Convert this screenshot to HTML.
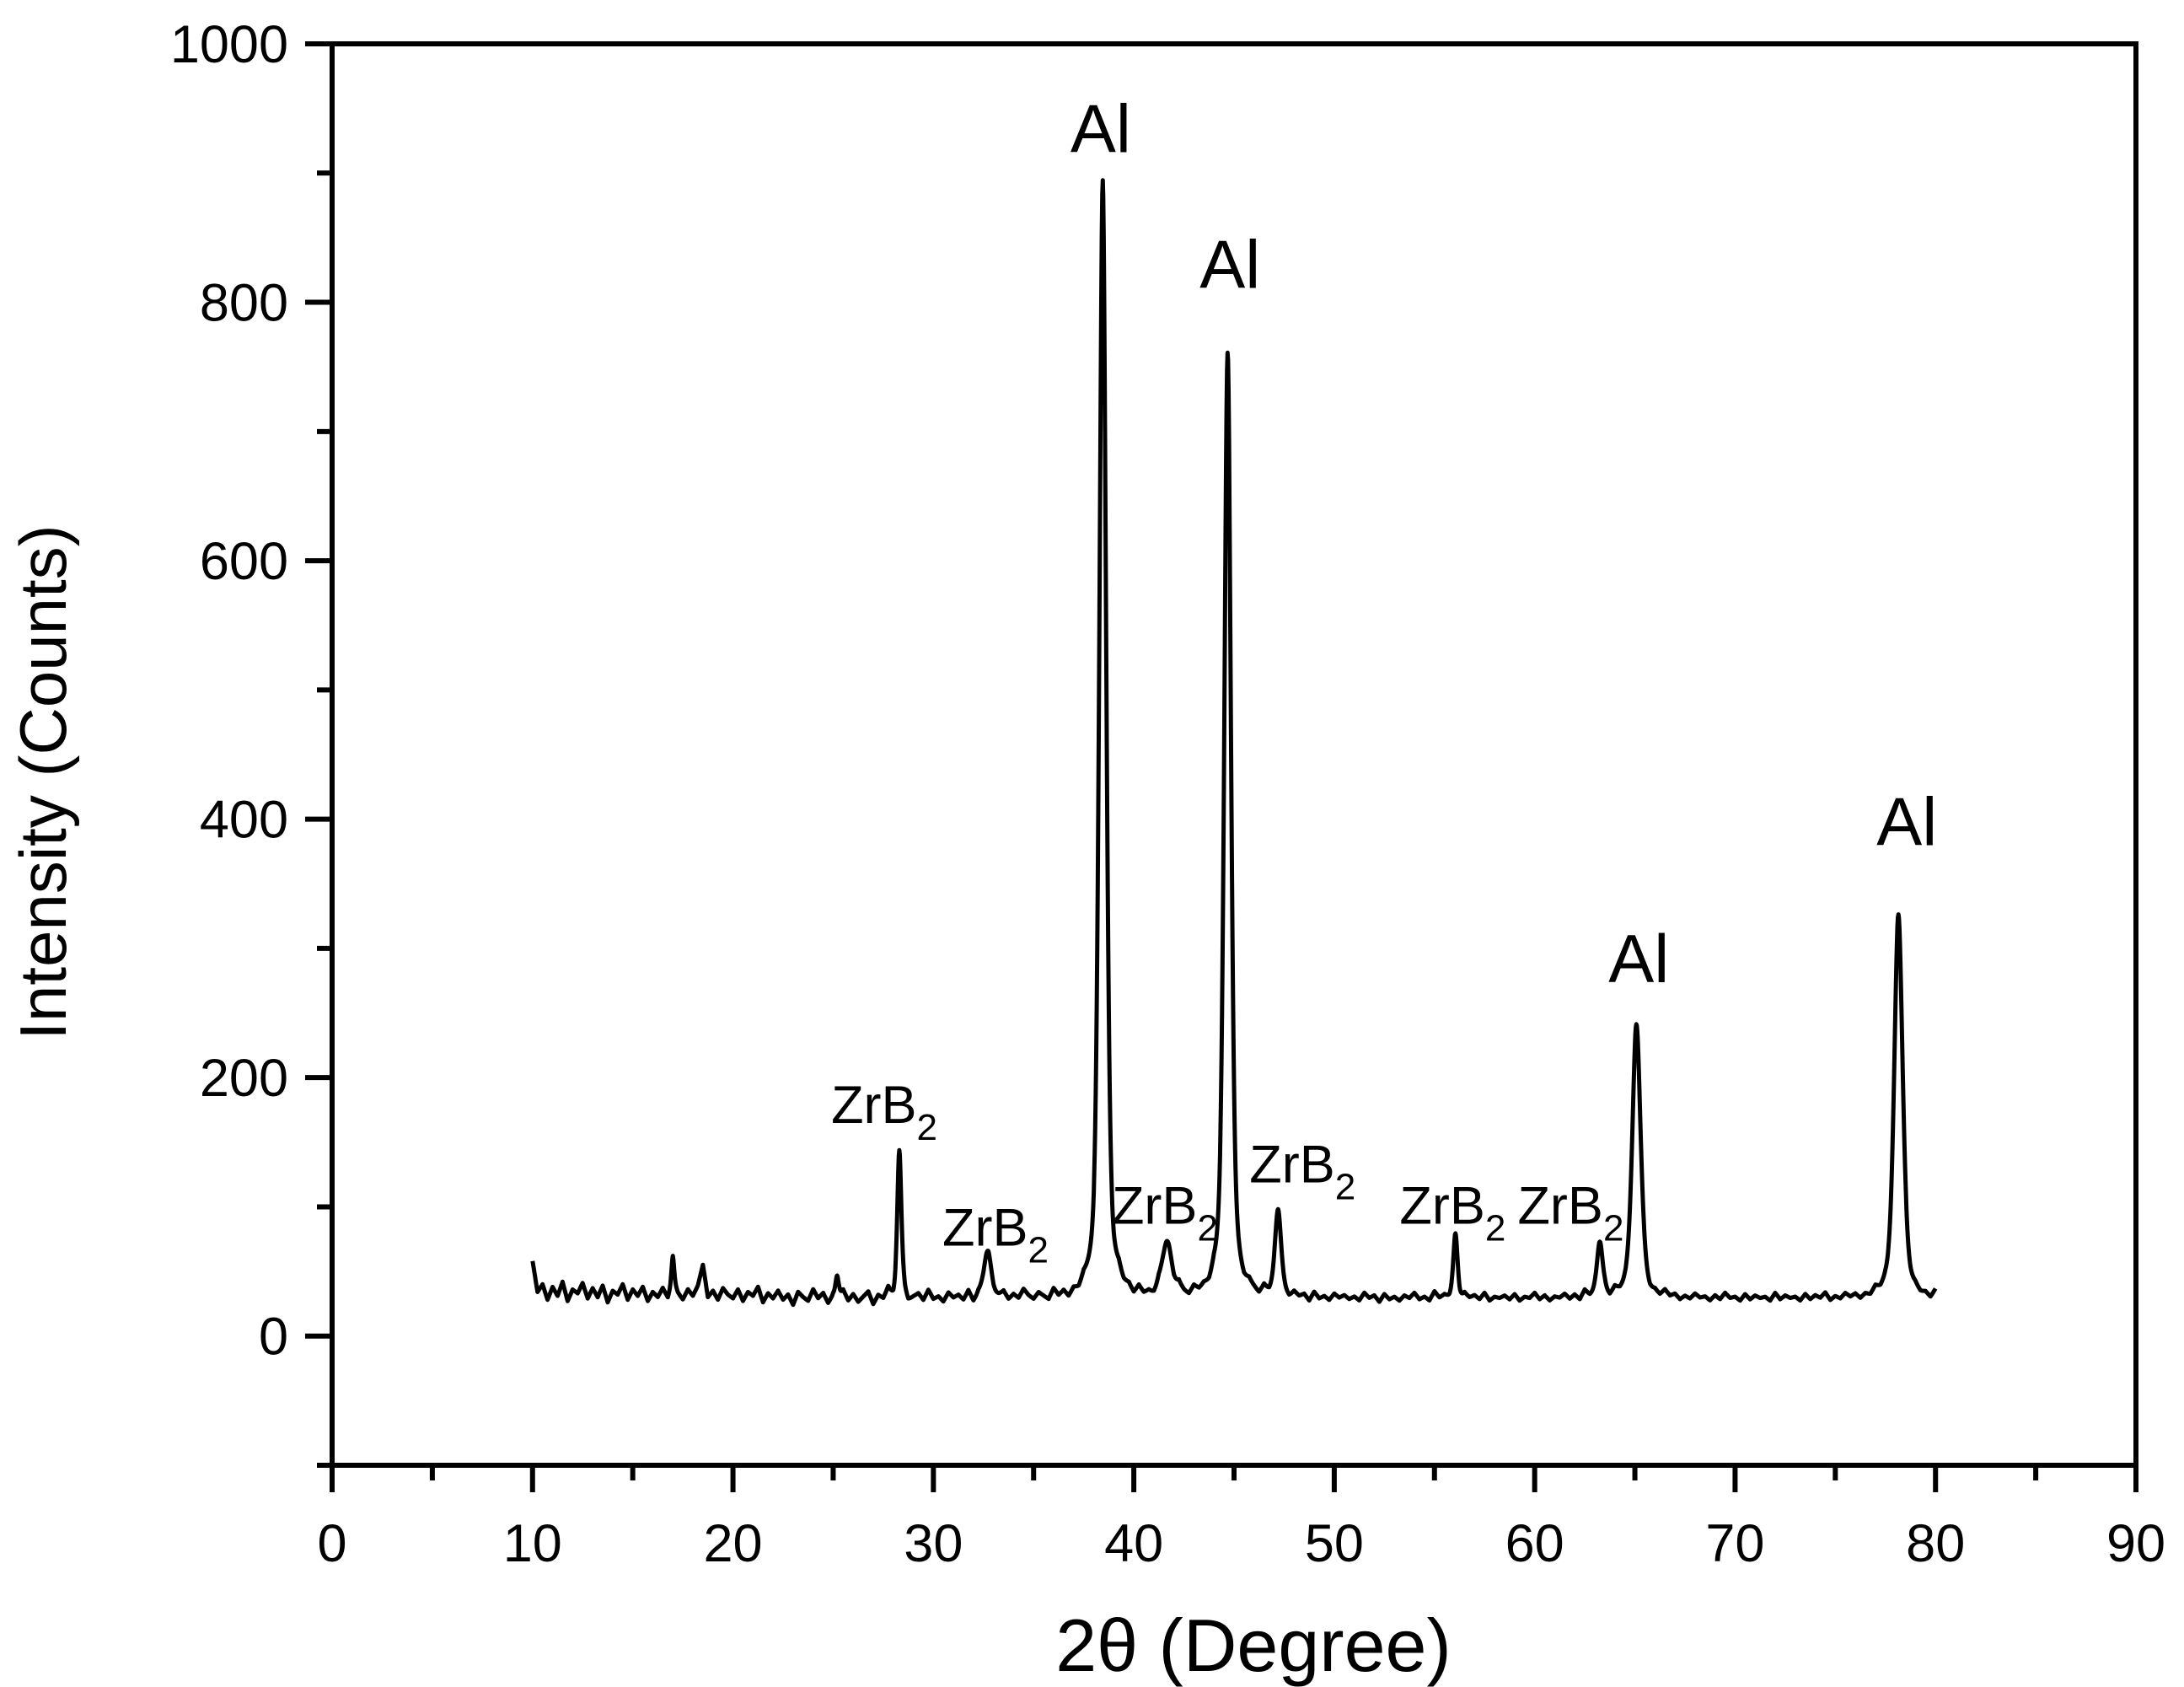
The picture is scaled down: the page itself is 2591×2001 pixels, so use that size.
<!DOCTYPE html>
<html><head><meta charset="utf-8">
<style>
html,body{margin:0;padding:0;background:#fff;}
svg{display:block;font-family:"Liberation Sans",Arial,sans-serif;}
</style></head>
<body>
<svg id="chart" width="2591" height="2001" viewBox="0 0 2591 2001" xmlns="http://www.w3.org/2000/svg">
<g id="axes"></g>
<path id="trace" fill="none" stroke="#000" stroke-width="5" stroke-linejoin="round"></path>
<g id="labels"></g>
<text x="1487" y="1982" font-size="88" text-anchor="middle">2θ (Degree)</text>
<text transform="translate(78,928) rotate(-90)" font-size="78" text-anchor="middle">Intensity (Counts)</text>
</svg>
<script>
// ---- data ----
const xTicks = [0,10,20,30,40,50,60,70,80,90];
const yTicks = [0,200,400,600,800,1000];
// baseline counts, every 0.25 deg from 10 to 80
const baseStart = 10, baseStep = 0.25;
const baseline = [58,34,40,28,38,31,42,27,36,33,41,29,37,30,39,26,35,32,40,28,
 36,31,38,27,34,30,37,29,42,33,28,36,31,39,55,30,35,28,37,32,
 29,36,27,34,31,38,26,33,29,35,28,32,24,34,30,27,36,29,33,25,
 31,28,35,27,32,26,30,34,24,31,28,36,27,30,33,25,29,32,27,35,
 28,30,26,33,29,31,27,34,25,30,28,32,26,29,33,27,31,28,35,30,
 27,32,29,26,34,28,31,25,30,27,33,29,26,32,28,30,27,34,29,31,
 26,33,28,30,27,32,29,31,28,35,30,27,33,29,31,28,34,30,27,32,
 29,31,28,33,30,27,34,29,31,28,30,27,32,29,31,26,33,28,30,27,
 32,29,31,28,30,27,33,29,31,26,32,28,30,27,31,29,33,28,30,27,
 34,29,31,28,30,26,32,29,31,28,33,27,30,29,31,28,32,27,30,29,
 33,28,31,27,30,29,32,28,31,27,34,29,30,28,31,27,33,29,30,28,
 32,29,31,27,30,28,33,29,31,27,30,28,32,29,30,27,31,28,33,29,
 30,27,32,28,31,29,30,27,33,28,31,29,30,27,32,28,31,29,33,27,
 30,28,32,29,31,27,30,28,33,29,31,28,30,27,32,29,31,28,30,27,34];
// peaks: position (deg), height above baseline (counts), half-width (deg)
const peakPos    = [17.0, 25.2, 28.3, 32.7, 38.45, 41.65, 44.68, 47.2, 56.05, 63.25, 65.08, 78.15];
const peakHeight = [20,   18,   113,  34,   865,   40,    730,   67,   50,    43,    210,   298];
const peakWidth  = [0.08, 0.1,  0.12, 0.25, 0.2,   0.3,   0.2,   0.18, 0.13,  0.17,  0.25,  0.25];
// Al labels (centered)
const alDeg = [38.35, 44.8, 65.2, 78.57];
const alVal = [916, 811, 274, 380];
// ZrB2 labels (left aligned)
const zrDeg = [24.9, 30.45, 38.9, 45.77, 53.26, 59.15];
const zrVal = [165, 70, 87, 119, 87, 87];

// ---- scales ----
const X0=394, X1=2534, Y0=1738, YT=52;
const xMin=0,xMax=90,yMin=-100,yMax=1000;
const sx = v => X0 + (v-xMin)/(xMax-xMin)*(X1-X0);
const sy = v => Y0 - (v-yMin)/(yMax-yMin)*(Y0-YT);
const NS="http://www.w3.org/2000/svg";
function mk(tag, attrs, parent){const e=document.createElementNS(NS,tag);for(const k in attrs)e.setAttribute(k,attrs[k]);parent.appendChild(e);return e;}

const axes=document.getElementById('axes');
const frame=mk('rect',{x:X0,y:YT,width:X1-X0,height:Y0-YT,fill:'none',stroke:'#000','stroke-width':6},axes);



for(let v=0; v<=90; v+=5){
  const major = v%10===0;
  const t=mk('line',{x1:sx(v),x2:sx(v),y1:Y0,y2:Y0+(major?32:18),stroke:'#000','stroke-width':6},axes);
  
  
}
xTicks.forEach(v=>{
  const t=mk('text',{x:sx(v),y:1852,'font-size':63,'text-anchor':'middle'},axes);
  t.textContent=v;
  
  
});
for(let v=-100; v<=1000; v+=100){
  const major = v%200===0;
  const t=mk('line',{x1:X0-(major?32:18),x2:X0,y1:sy(v),y2:sy(v),stroke:'#000','stroke-width':6},axes);
  
  
}
yTicks.forEach(v=>{
  const t=mk('text',{x:342,y:sy(v)+22,'font-size':63,'text-anchor':'end'},axes);
  t.textContent=v;
  
  
});

// ---- trace ----
function base(x){
  const f=(x-baseStart)/baseStep; const i=Math.floor(f);
  if(i>=baseline.length-1) return baseline[baseline.length-1];
  const r=f-i; return baseline[i]*(1-r)+baseline[i+1]*r;
}
function intensity(x){
  let y=base(x);
  for(let k=0;k<peakPos.length;k++){
    const d=(x-peakPos[k])/peakWidth[k];
    y+=peakHeight[k]*(0.5/(1+d*d)+0.5*Math.exp(-0.693*d*d));
  }
  return y;
}
let d='';
for(let x=10; x<=80.0001; x+=0.025){
  d+=(d?'L':'M')+sx(x).toFixed(1)+','+sy(intensity(x)).toFixed(1);
}
document.getElementById('trace').setAttribute('d',d);

// ---- labels ----
const lg=document.getElementById('labels');
alDeg.forEach((v,i)=>{
  const tx=mk('text',{x:sx(v),y:sy(alVal[i]),'font-size':81,'text-anchor':'middle'},lg);
  
  
  tx.textContent='Al';
});
zrDeg.forEach((v,i)=>{
  const tx=mk('text',{x:sx(v),y:sy(zrVal[i]),'font-size':63,'text-anchor':'start'},lg);
  
  
  tx.appendChild(document.createTextNode('ZrB'));
  const s=mk('tspan',{'font-size':44,dy:20},tx);
  s.textContent='2';
});
</script>
</body></html>
